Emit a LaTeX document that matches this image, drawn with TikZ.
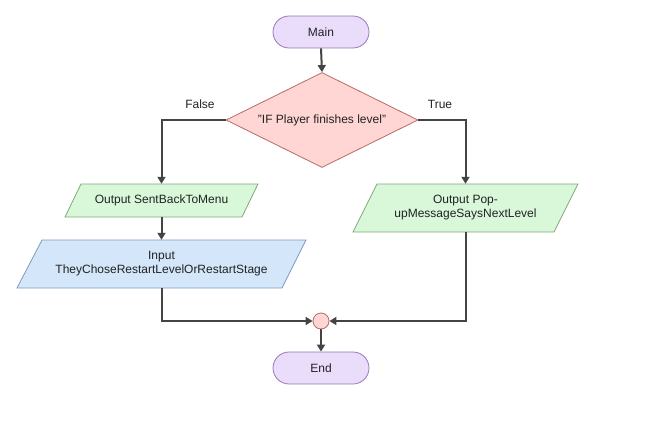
\documentclass[tikz,border=0pt]{standalone}
\usepackage{fontspec}
\setmainfont{Liberation Sans}
\usetikzlibrary{shapes.geometric,arrows.meta}
\definecolor{termfill}{HTML}{EADCFB}
\definecolor{termdraw}{HTML}{9A7BB0}
\definecolor{decfill}{HTML}{FFD6D3}
\definecolor{decdraw}{HTML}{B86A66}
\definecolor{outfill}{HTML}{D9F8DA}
\definecolor{outdraw}{HTML}{82A877}
\definecolor{infill}{HTML}{D3E6FA}
\definecolor{indraw}{HTML}{7E99BE}
\definecolor{linecol}{HTML}{444444}
\definecolor{txtcol}{HTML}{222222}
\begin{document}
\begin{tikzpicture}[x=1pt,y=-1pt,
  every node/.style={font=\fontsize{12}{14}\selectfont, text=txtcol},
  term/.style={draw=termdraw, fill=termfill, line width=0.8pt, rounded corners=16pt, minimum width=96pt, minimum height=32pt, inner sep=0pt},
  dec/.style={diamond, draw=decdraw, fill=decfill, line width=0.8pt, minimum width=192pt, minimum height=95pt, inner sep=0pt, shape aspect=2},
  plain/.style={inner sep=0pt, align=center},
  outshape/.style={draw=outdraw, fill=outfill, line width=0.8pt},
  inshape/.style={draw=indraw, fill=infill, line width=0.8pt},
  junc/.style={circle, draw=decdraw, fill=decfill, line width=0.8pt, minimum size=16pt, inner sep=0pt},
  conn/.style={draw=linecol, line width=2pt, -{Triangle[length=7pt,width=8pt]}},
  lbl/.style={inner sep=0pt}
]
\useasboundingbox (0,0) rectangle (658,428);
% parallelogram shapes
\path[outshape] (81,184) -- (258,184) -- (242,217) -- (65,217) -- cycle;
\path[inshape] (42,240) -- (306,240) -- (282,288) -- (17,288) -- cycle;
\path[outshape] (377,184) -- (578,184) -- (554,232) -- (353,232) -- cycle;

\node[term] (main) at (321,32) {Main};
\node[dec] (dec) at (322,120) {"IF Player finishes level"};
\node[plain, minimum width=177pt, minimum height=33pt] (out1) at (161.5,200.5) {Output SentBackToMenu};
\node[plain, minimum width=265pt, minimum height=48pt] (in1) at (161.5,264) {Input\\TheyChoseRestartLevelOrRestartStage};
\node[plain, minimum width=201pt, minimum height=48pt] (out2) at (465.5,208) {Output Pop-\\upMessageSaysNextLevel};
\node[junc] (junc) at (321,321) {};
\node[term] (end) at (321,368) {End};

\node[lbl] (lfalse) at (200,104) {False};
\node[lbl] (ltrue) at (440,104) {True};

\draw[conn] (main.south) -- (dec.north);
\draw[conn] (dec.west) -| (out1.north);
\draw[conn] (dec.east) -| (out2.north);
\draw[conn] (out1.south) -- (in1.north);
\draw[conn] (in1.south) |- (junc.west);
\draw[conn] (out2.south) |- (junc.east);
\draw[conn] (junc.south) -- (end.north);
\end{tikzpicture}
\end{document}
